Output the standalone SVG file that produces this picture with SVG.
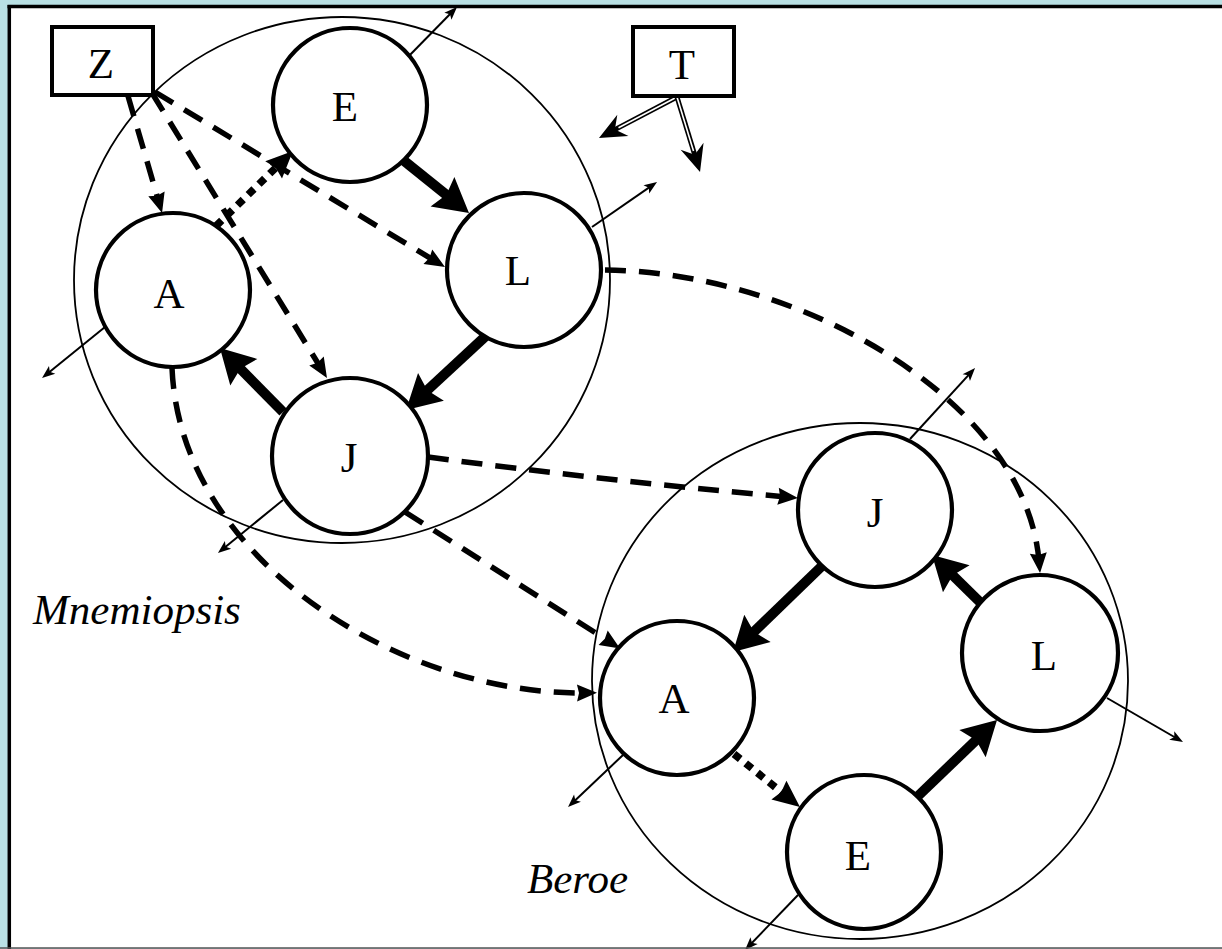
<svg xmlns="http://www.w3.org/2000/svg" width="1222" height="949" viewBox="0 0 1222 949">
  <style>
    .big { fill: none; stroke: #000; stroke-width: 1.8; }
    .node circle { fill: #fff; stroke: #000; stroke-width: 4.2; }
    .box rect { fill: #fff; stroke: #000; stroke-width: 4; }
    .lbl { font-size: 43px; text-anchor: middle; fill: #000; }
    .taxon { font-size: 43px; font-style: italic; fill: #000; }
    .thick { fill: none; stroke: #000; stroke-width: 10; marker-end: url(#headBig); }
    .dash { fill: none; stroke: #000; stroke-width: 5.5; stroke-dasharray: 21 13; marker-end: url(#headDash); }
    .dot { fill: none; stroke: #000; stroke-width: 7.5; stroke-dasharray: 8 7; marker-end: url(#headDot); }
    .thin { fill: none; stroke: #000; stroke-width: 2; marker-end: url(#headThin); }
    .dbl-out { fill: none; stroke: #000; stroke-width: 5; marker-end: url(#headDbl); }
    .dbl-in { fill: none; stroke: #fff; stroke-width: 1.6; }
  </style>
  <defs>
    <marker id="headBig" markerUnits="userSpaceOnUse" viewBox="-36 -20 37 40" markerWidth="37" markerHeight="40" refX="-20" refY="0" orient="auto">
      <path d="M0,0 L-34,-19 L-29,0 L-34,19 Z" fill="#000"/>
    </marker>
    <marker id="headDash" markerUnits="userSpaceOnUse" viewBox="-22 -10 23 20" markerWidth="23" markerHeight="20" refX="-12" refY="0" orient="auto">
      <path d="M0,0 L-20,-8.5 L-18,0 L-20,8.5 Z" fill="#000"/>
    </marker>
    <marker id="headDot" markerUnits="userSpaceOnUse" viewBox="-29 -13 30 26" markerWidth="30" markerHeight="26" refX="-16" refY="0" orient="auto">
      <path d="M0,0 L-27,-12 L-24,0 L-27,12 Z" fill="#000"/>
    </marker>
    <marker id="headThin" markerUnits="userSpaceOnUse" viewBox="-15 -7 16 14" markerWidth="16" markerHeight="14" refX="-6" refY="0" orient="auto">
      <path d="M0,0 L-13,-5 L-10,0 L-13,5 Z" fill="#000"/>
    </marker>
    <marker id="headDbl" markerUnits="userSpaceOnUse" viewBox="-29 -13 30 26" markerWidth="30" markerHeight="26" refX="-12" refY="0" orient="auto">
      <path d="M0,0 L-27,-12 L-18,0 L-27,12 Z" fill="#000"/>
    </marker>
  </defs>

  <!-- page frame -->
  <rect x="0" y="0" width="1222" height="949" fill="#b9e0e4"/>
  <rect x="8" y="5" width="1214" height="943" fill="#fff"/>

  <!-- species enclosures -->
  <ellipse class="big" cx="342" cy="280" rx="268" ry="263"/>
  <ellipse class="big" cx="860" cy="681" rx="268" ry="258"/>

  <g id="connectors">
    <!-- stage transitions within Mnemiopsis -->
    <path class="thick" d="M403,160 L453.4,200.5"/>
    <path class="thick" d="M488,334 L420.7,396.4"/>
    <path class="thick" d="M283,412 L234,362.3"/>
    <path class="dot" d="M216,226 L281.5,162.2"/>
    <!-- stage transitions within Beroe -->
    <path class="thick" d="M822,566 L747.4,638.1"/>
    <path class="thick" d="M986,608 L946.3,569"/>
    <path class="thick" d="M917,797 L982.6,733.9"/>
    <path class="dot" d="M734,754 L787.5,797"/>
    <!-- food links from Z -->
    <path class="dash" d="M128,96 L158.7,201.5"/>
    <path class="dash" d="M152,93 L320.7,367.8"/>
    <path class="dash" d="M155,92 L434.7,260.8"/>
    <!-- links from Mnemiopsis stages to Beroe stages -->
    <path class="dash" d="M605,270 C800,272 1025,400 1039,561"/>
    <path class="dash" d="M428,457 Q600,480 786,496.9"/>
    <path class="dash" d="M405,512 L609.9,642"/>
    <path class="dash" d="M172,368 C180,560 400,695 585,693"/>
    <!-- losses -->
    <path class="thin" d="M405,60 L452.8,11.3"/>
    <path class="thin" d="M592,227 L652.1,185.4"/>
    <path class="thin" d="M105,327 L46.7,374.2"/>
    <path class="thin" d="M283,500 L222.6,549.2"/>
    <path class="thin" d="M910,439 L971,372.4"/>
    <path class="thin" d="M1107,698 L1177.8,739"/>
    <path class="thin" d="M623,755 L572.4,802.9"/>
    <path class="thin" d="M798,895 L749.2,945.7"/>
    <!-- temperature effects -->
    <path class="dbl-out" d="M677,97 L609.6,132.4"/>
    <path class="dbl-in" d="M677,97 L618.5,127.8"/>
    <path class="dbl-out" d="M677,97 L696.5,160.5"/>
    <path class="dbl-in" d="M677,97 L693.5,151"/>
  </g>

  <g font-family="'Liberation Serif', 'DejaVu Serif', serif">
    <!-- Mnemiopsis stages -->
    <g id="mn-E" class="node"><circle cx="350" cy="105" r="77"/><text class="lbl" x="345" y="121">E</text></g>
    <g id="mn-L" class="node"><circle cx="524" cy="270" r="77"/><text class="lbl" x="518" y="285">L</text></g>
    <g id="mn-A" class="node"><circle cx="173" cy="290" r="77"/><text class="lbl" x="169" y="308">A</text></g>
    <g id="mn-J" class="node"><circle cx="350" cy="456" r="78"/><text class="lbl" x="349" y="472">J</text></g>

    <!-- Beroe stages -->
    <g id="be-J" class="node"><circle cx="875" cy="510" r="77"/><text class="lbl" x="875" y="527">J</text></g>
    <g id="be-L" class="node"><circle cx="1040" cy="653" r="78"/><text class="lbl" x="1044" y="670">L</text></g>
    <g id="be-A" class="node"><circle cx="677" cy="698" r="77"/><text class="lbl" x="674" y="713">A</text></g>
    <g id="be-E" class="node"><circle cx="864" cy="852" r="77"/><text class="lbl" x="858" y="870">E</text></g>

    <!-- external drivers -->
    <g id="Z" class="box"><rect x="52" y="27" width="101" height="68"/><text class="lbl" x="101" y="78">Z</text></g>
    <g id="T" class="box"><rect x="633" y="27" width="101" height="69"/><text class="lbl" x="682" y="79">T</text></g>

    <text class="taxon" x="33" y="624">Mnemiopsis</text>
    <text class="taxon" x="527" y="893">Beroe</text>
  </g>

  <!-- frame edges drawn last so losses run under them -->
  <rect x="0" y="0" width="1222" height="5" fill="#b9e0e4"/>
  <rect x="0" y="0" width="7.5" height="949" fill="#b9e0e4"/>
  <line x1="7.5" y1="6.5" x2="1222" y2="6.5" stroke="#000" stroke-width="3.5"/>
  <line x1="9.3" y1="5" x2="9.3" y2="949" stroke="#000" stroke-width="3.5"/>
  <line x1="0" y1="948" x2="1222" y2="948" stroke="#555" stroke-width="1.6"/>
</svg>
